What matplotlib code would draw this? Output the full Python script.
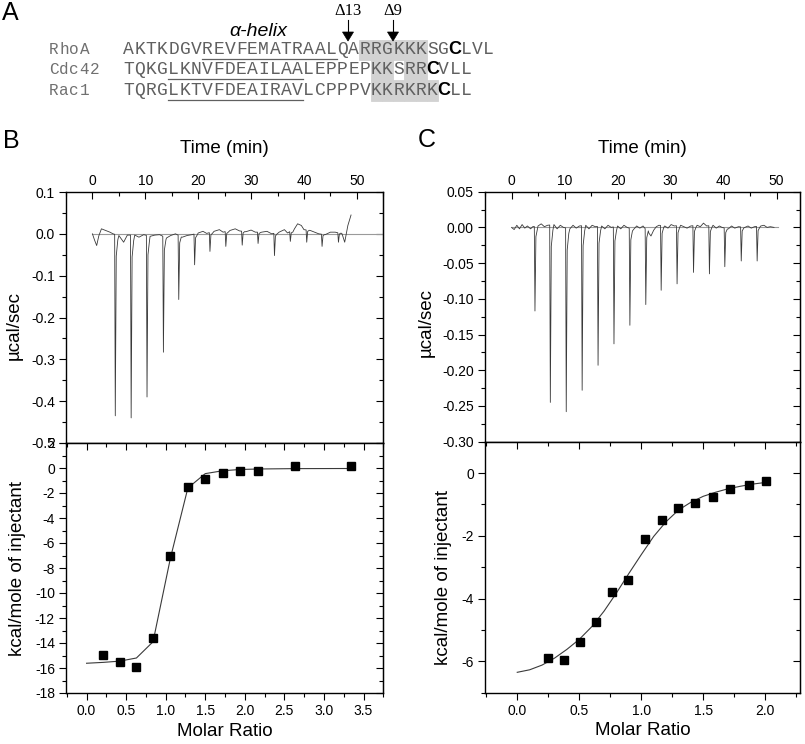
import numpy as np
import matplotlib
matplotlib.use('Agg')
import matplotlib.pyplot as plt
from matplotlib.patches import Rectangle, Polygon
from matplotlib.ticker import MultipleLocator, FormatStrFormatter

plt.rcParams['font.family'] = ['Liberation Sans', 'DejaVu Sans']
plt.rcParams['axes.unicode_minus'] = False

# ---- panel A: C-terminal sequences ----
names = ['RhoA', 'Cdc42', 'Rac1']
seqs = ['AKTKDGVREVFEMATRAALQARRGKKKSGCLVL',
        'TQKGLKNVFDEAILAALEPPEPKKSRRCVLL',
        'TQRGLKTVFDEAIRAVLCPPPVKKRKRKCLL']
helix = [(7, 19), (4, 16), (4, 16)]          # underlined residues
basic = [[21, 22, 23, 24, 25, 26], [22, 23, 25, 26], [22, 23, 24, 25, 26, 27]]
cys = [29, 27, 28]
cuts = [('Δ13', 20), ('Δ9', 24)]

# ---- panel B: raw ITC trace (RhoA) ----
injB_t = [4.2, 7.2, 10.2, 13.3, 16.2, 19.2, 22.1, 25.1, 28.2, 31.2, 34.3, 37.3, 40.4, 43.3, 46.4]
injB_d = [-0.435, -0.44, -0.39, -0.283, -0.157, -0.074, -0.042, -0.03, -0.027, -0.023,
          -0.052, -0.018, -0.02, -0.03, -0.02]
baseB_t = [0.0, 0.4, 0.8, 1.2, 1.7, 2.5, 3.3, 3.9, 5.0, 5.9, 6.6, 8.0, 8.8, 9.7,
           10.9, 11.8, 12.7, 14.0, 14.8, 15.7, 17.0, 17.9, 18.8, 20.0, 20.9, 21.6,
           23.0, 24.0, 24.7, 26.0, 27.0, 27.8, 29.0, 30.0, 30.8, 32.0, 33.0, 33.9,
           35.3, 36.3, 36.9, 38.2, 38.8, 39.5, 40.0, 41.2, 42.0, 42.8, 44.0, 45.0,
           45.9, 47.2, 47.7, 48.3, 48.9]
baseB_v = [0.0, -0.015, -0.028, -0.005, 0.012, 0.008, 0.004, 0.0, -0.004, -0.02, -0.003,
           -0.003, -0.008, -0.002, -0.006, -0.003, -0.002, -0.01, -0.004, 0.0, -0.008,
           -0.004, -0.002, 0.002, 0.006, 0.001, 0.006, 0.01, 0.004, 0.008, 0.012, 0.007,
           0.005, 0.009, 0.004, 0.004, 0.006, 0.0, 0.004, 0.01, 0.002, 0.012, 0.024,
           0.02, 0.01, 0.008, 0.004, 0.0, -0.002, 0.004, 0.004, 0.0, -0.02, 0.02, 0.045]

# ---- panel B: integrated heats ----
ratioB = [0.21, 0.42, 0.63, 0.84, 1.06, 1.28, 1.50, 1.72, 1.94, 2.17, 2.63, 3.34]
heatB = [-14.96, -15.5, -15.9, -13.6, -7.0, -1.5, -0.9, -0.4, -0.2, -0.2, 0.2, 0.2]
fitB_x = [0.0, 0.21, 0.42, 0.63, 0.84, 1.06, 1.28, 1.50, 1.72, 1.94, 2.17, 2.63, 3.34]
fitB_y = [-15.62, -15.55, -15.45, -15.2, -13.9, -7.2, -1.6, -0.45, -0.22, -0.12,
          -0.08, -0.05, -0.04]

# ---- panel C: raw ITC trace ----
injC_t = [4.3, 7.2, 10.2, 13.2, 16.2, 19.2, 22.2, 25.2, 28.1, 31.1, 34.2, 37.2, 40.1, 43.2, 46.2]
injC_d = [-0.117, -0.245, -0.258, -0.228, -0.193, -0.163, -0.137, -0.108, -0.088, -0.079,
          -0.063, -0.065, -0.055, -0.047, -0.047]
baseC_t = [0.0, 0.5, 1.0, 1.5, 2.0, 2.5, 3.0, 3.6, 4.0, 5.0, 5.6, 6.2, 6.8, 8.0, 8.6, 9.2,
           9.8, 11.0, 11.6, 12.2, 12.8, 14.0, 14.6, 15.2, 15.8, 17.0, 17.6, 18.2, 18.8,
           20.0, 20.6, 21.2, 21.8, 23.0, 23.6, 24.2, 24.8, 25.9, 26.3, 26.8, 27.3, 27.8,
           28.9, 29.5, 30.1, 30.7, 31.9, 32.5, 33.1, 33.8, 35.0, 35.6, 36.2, 36.8, 38.0,
           38.6, 39.2, 39.7, 40.9, 41.5, 42.1, 42.8, 44.0, 44.6, 45.2, 45.8, 47.0, 47.6,
           48.2, 48.8, 49.5]
baseC_v = [0.0, -0.003, 0.003, -0.002, 0.004, -0.001, 0.002, -0.002, 0.001, 0.002, 0.005,
           0.001, 0.003, 0.004, -0.002, 0.003, 0.0, -0.002, 0.003, -0.001, 0.002, 0.003,
           -0.002, 0.003, 0.001, 0.002, -0.002, 0.003, 0.0, 0.002, -0.002, 0.003, 0.0,
           -0.003, 0.002, -0.001, 0.002, -0.008, -0.012, -0.004, 0.001, 0.003, 0.002,
           -0.001, 0.004, 0.002, 0.003, 0.001, -0.001, 0.002, 0.003, 0.001, 0.006, 0.002,
           0.003, -0.001, 0.002, 0.0, -0.002, 0.002, -0.001, 0.001, 0.0, 0.002, -0.001,
           0.001, 0.002, 0.003, 0.0, 0.001, 0.0]

# ---- panel C: integrated heats ----
ratioC = [0.248, 0.374, 0.504, 0.633, 0.763, 0.895, 1.03, 1.165, 1.30, 1.436, 1.577,
          1.717, 1.865, 2.006]
heatC = [-5.88, -5.96, -5.37, -4.76, -3.78, -3.42, -2.1, -1.48, -1.12, -0.96, -0.75,
         -0.5, -0.375, -0.24]
fitC_x = [0.0, 0.1, 0.2, 0.3, 0.4, 0.5, 0.6, 0.7, 0.8, 0.9, 1.0, 1.1, 1.2, 1.3, 1.4,
          1.5, 1.6, 1.7, 1.8, 1.9, 2.0]
fitC_y = [-6.35, -6.27, -6.12, -5.9, -5.62, -5.3, -4.9, -4.4, -3.82, -3.2, -2.6, -2.02,
          -1.55, -1.18, -0.93, -0.74, -0.61, -0.5, -0.42, -0.35, -0.3]


def build_trace(inj_t, inj_d, base_t, base_v):
    t = list(base_t)
    v = list(base_v)
    for ti, di in zip(inj_t, inj_d):
        b = float(np.interp(ti, base_t, base_v))
        t += [ti, ti + 0.12, ti + 0.3, ti + 0.6]
        v += [b, di, b + (di - b) * 0.12, b + (di - b) * 0.03]
    order = np.argsort(t)
    return np.array(t)[order], np.array(v)[order]


def style_axes(ax, xmaj, xmin, ymaj, ymin, yfmt, top_panel):
    for s in ax.spines.values():
        s.set_linewidth(1.0)
    ax.xaxis.set_major_locator(MultipleLocator(xmaj))
    ax.xaxis.set_minor_locator(MultipleLocator(xmin))
    ax.yaxis.set_major_locator(MultipleLocator(ymaj))
    ax.yaxis.set_minor_locator(MultipleLocator(ymin))
    ax.yaxis.set_major_formatter(FormatStrFormatter(yfmt))
    ax.tick_params(which='major', length=5, width=0.8, labelsize=10, pad=3)
    ax.tick_params(which='minor', length=2.8, width=0.8)
    ax.tick_params(axis='y', which='both', direction='out', left=True, right=False)
    sy = ax.secondary_yaxis('right')
    sy.yaxis.set_major_locator(MultipleLocator(ymaj))
    sy.yaxis.set_minor_locator(MultipleLocator(ymin))
    sy.tick_params(which='major', direction='in', length=5, width=0.8, labelright=False)
    sy.tick_params(which='minor', direction='in', length=2.8, width=0.8)
    if top_panel:
        ax.tick_params(axis='x', which='both', direction='in', bottom=False, top=True,
                       labelbottom=False, labeltop=True)
        ax.xaxis.set_major_formatter(FormatStrFormatter('%d'))
    else:
        ax.tick_params(axis='x', which='both', direction='out', bottom=True, top=False)
        ax.xaxis.set_major_formatter(FormatStrFormatter('%.1f'))
        sx = ax.secondary_xaxis('top')
        sx.xaxis.set_major_locator(MultipleLocator(xmaj))
        sx.xaxis.set_minor_locator(MultipleLocator(xmin))
        sx.tick_params(which='major', direction='in', length=5, width=0.8, labeltop=False)
        sx.tick_params(which='minor', direction='in', length=2.8, width=0.8)


W, H = 805, 744
fig = plt.figure(figsize=(W / 100, H / 100), dpi=100)


def px_rect(l, t, r, b):
    return [l / W, (H - b) / H, (r - l) / W, (b - t) / H]


# overlay in pixel coordinates for panel A and panel letters
ov = fig.add_axes([0, 0, 1, 1])
ov.set_xlim(0, W)
ov.set_ylim(H, 0)
ov.axis('off')

x0, cw = 123.0, 11.25
row_y = [49.5, 70.0, 90.5]
row_edges = [39.5, 59.75, 80.25, 100.75]
for r, (name, seq) in enumerate(zip(names, seqs)):
    yc = row_y[r]
    for i in basic[r]:
        ov.add_patch(Rectangle((x0 + i * cw, row_edges[r]), cw, row_edges[r + 1] - row_edges[r],
                               facecolor='#d2d2d2', edgecolor='#d2d2d2', lw=0.6, zorder=1))
    for k, ch in enumerate(name):
        ov.text(48.5 + (k + 0.5) * 10.3, yc, ch, ha='center', va='center',
                family='Liberation Mono', size=11.5, color='#707070', zorder=3)
    for i, ch in enumerate(seq):
        if i == cys[r]:
            ov.text(x0 + (i + 0.5) * cw, yc, ch, ha='center', va='center',
                    family='Liberation Sans', weight='bold', size=13, color='black', zorder=3)
        else:
            ov.text(x0 + (i + 0.5) * cw, yc, ch, ha='center', va='center',
                    family='Liberation Mono', size=13, color='#606060', zorder=3)
    a, b = helix[r]
    ov.plot([x0 + a * cw, x0 + b * cw], [yc + 9.3, yc + 9.3], color='#606060', lw=0.9, zorder=3)

ov.text(258.5, 31, 'α-helix', ha='center', va='center', size=14, style='italic', color='black')
for lab, pos in cuts:
    xc = x0 + pos * cw
    ov.plot([xc, xc], [20, 32], color='black', lw=0.8)
    ov.add_patch(Polygon([[xc - 5.5, 32], [xc + 5.5, 32], [xc, 41]], closed=True,
                         facecolor='black', edgecolor='black', lw=0.5))
    ov.text(xc, 11, lab, ha='center', va='center', family='Liberation Serif', size=12)

ov.text(2, 13, 'A', ha='left', va='center', size=18)
ov.text(3, 141, 'B', ha='left', va='center', size=18)
ov.text(418, 140, 'C', ha='left', va='center', size=18)

trace_col = '#3a3a3a'

# ---- panel B ----
axBt = fig.add_axes(px_rect(66, 192, 383.3, 443))
tB, vB = build_trace(injB_t, injB_d, baseB_t, baseB_v)
axBt.plot([0, 55], [0, 0], color='#9a9a9a', lw=0.8)
axBt.plot(tB, vB, color=trace_col, lw=0.6)
axBt.set_xlim(-5, 55)
axBt.set_ylim(-0.5, 0.1)
style_axes(axBt, 10, 5, 0.1, 0.05, '%.1f', True)
axBt.set_xlabel('Time (min)', fontsize=13.5)
axBt.xaxis.set_label_position('top')
axBt.xaxis.set_label_coords(0.5, 1.174)
axBt.xaxis.label.set_va('center')
axBt.set_ylabel('µcal/sec', fontsize=13.5)
axBt.yaxis.set_label_coords(-0.164, 0.47)
axBt.yaxis.label.set_va('center')

axBb = fig.add_axes(px_rect(66, 443, 383.3, 693))
axBb.plot(fitB_x, fitB_y, color=trace_col, lw=0.8)
axBb.plot(ratioB, heatB, 's', color='black', ms=6)
axBb.set_xlim(-0.26, 3.75)
axBb.set_ylim(-18, 2)
style_axes(axBb, 0.5, 0.25, 2, 1, '%d', False)
axBb.set_xlabel('Molar Ratio', fontsize=13.5)
axBb.xaxis.set_label_coords(0.5, -0.152)
axBb.xaxis.label.set_va('center')
axBb.set_ylabel('kcal/mole of injectant', fontsize=13.5)
axBb.yaxis.set_label_coords(-0.154, 0.5)
axBb.yaxis.label.set_va('center')

# ---- panel C ----
axCt = fig.add_axes(px_rect(485, 191.7, 800, 441.7))
tC, vC = build_trace(injC_t, injC_d, baseC_t, baseC_v)
axCt.plot([0, 50.2], [0, 0], color='#9a9a9a', lw=0.8)
axCt.plot(tC, vC, color=trace_col, lw=0.6)
axCt.set_xlim(-5, 54.4)
axCt.set_ylim(-0.30, 0.05)
style_axes(axCt, 10, 5, 0.05, 0.025, '%.2f', True)
axCt.set_xlabel('Time (min)', fontsize=13.5)
axCt.xaxis.set_label_position('top')
axCt.xaxis.set_label_coords(0.5, 1.174)
axCt.xaxis.label.set_va('center')
axCt.set_ylabel('µcal/sec', fontsize=13.5)
axCt.yaxis.set_label_coords(-0.187, 0.475)
axCt.yaxis.label.set_va('center')

axCb = fig.add_axes(px_rect(485, 441.7, 800, 692.7))
axCb.plot(fitC_x, fitC_y, color=trace_col, lw=0.8)
axCb.plot(ratioC, heatC, 's', color='black', ms=6)
axCb.set_xlim(-0.26, 2.28)
axCb.set_ylim(-7, 1)
style_axes(axCb, 0.5, 0.25, 2, 1, '%d', False)
axCb.set_xlabel('Molar Ratio', fontsize=13.5)
axCb.xaxis.set_label_coords(0.5, -0.152)
axCb.xaxis.label.set_va('center')
axCb.set_ylabel('kcal/mole of injectant', fontsize=13.5)
axCb.yaxis.set_label_coords(-0.133, 0.457)
axCb.yaxis.label.set_va('center')

fig.savefig('out.png', dpi=100)
plt.close(fig)
